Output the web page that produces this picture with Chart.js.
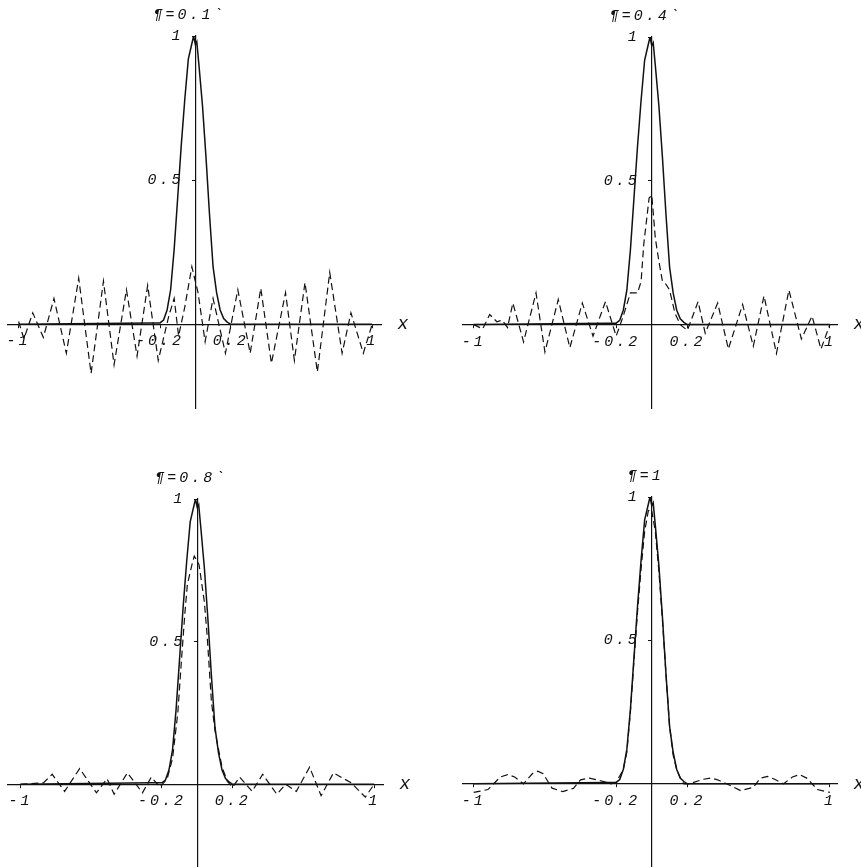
<!DOCTYPE html>
<html>
<head>
<meta charset="utf-8">
<script src="https://cdn.jsdelivr.net/npm/chart.js@4.4.1/dist/chart.umd.min.js"></script>
<style>
body { margin: 0; background: #fff; }
#wrap { position: relative; width: 861px; height: 867px; overflow: hidden; }
#wrap canvas { position: absolute; }
</style>
</head>
<body>
<div id="wrap">
  <canvas id="c1" width="430" height="430" style="left:0;top:0"></canvas>
  <canvas id="c2" width="431" height="430" style="left:430px;top:0"></canvas>
  <canvas id="c3" width="430" height="437" style="left:0;top:430px"></canvas>
  <canvas id="c4" width="431" height="437" style="left:430px;top:430px"></canvas>
</div>
<script>
// panel labels
const etaLabels = ['¶=0.1`', '¶=0.4`', '¶=0.8`', '¶=1'];

// tick values + labels
const xTickValues = [-1, -0.2, 0.2, 1];
const xTickLabels = ['-1', '-0.2', '0.2', '1'];
const yTickValues = [0.5, 1];
const yTickLabels = ['0.5 ', '1 '];

// exact curve (solid), same in every panel
const exactX = [-1, -0.25, -0.2, -0.18, -0.16, -0.14, -0.12, -0.1, -0.08, -0.06, -0.04, -0.025, -0.01, 0, 0.008, 0.02, 0.04, 0.06, 0.08, 0.1, 0.12, 0.14, 0.16, 0.18, 0.2, 0.25, 1];
const exactY = [0, 0.005, 0.005, 0.015, 0.05, 0.12, 0.26, 0.44, 0.62, 0.78, 0.92, 0.96, 1.0, 0.97, 0.98, 0.9, 0.76, 0.58, 0.38, 0.2, 0.11, 0.05, 0.02, 0.008, 0, 0, 0];

// approximation (dashed), eta = 0.1
const dash1X = [-1, -0.97, -0.92, -0.86, -0.8, -0.73, -0.66, -0.59, -0.52, -0.46, -0.39, -0.33, -0.27, -0.21, -0.15, -0.12, -0.095, -0.06, -0.02, 0.015, 0.055, 0.1, 0.17, 0.24, 0.31, 0.37, 0.43, 0.51, 0.56, 0.62, 0.69, 0.76, 0.83, 0.88, 0.95, 1];
const dash1Y = [0.01, -0.05, 0.04, -0.045, 0.09, -0.1, 0.16, -0.17, 0.15, -0.14, 0.12, -0.11, 0.135, -0.125, 0.03, 0.09, -0.04, 0.06, 0.2, 0.11, -0.06, 0.09, -0.1, 0.12, -0.1, 0.125, -0.135, 0.11, -0.125, 0.145, -0.165, 0.18, -0.1, 0.04, -0.1, 0];

// eta = 0.4
const dash2X = [-1, -0.95, -0.91, -0.87, -0.84, -0.81, -0.78, -0.72, -0.65, -0.6, -0.525, -0.46, -0.39, -0.33, -0.26, -0.2, -0.16, -0.12, -0.08, -0.06, -0.045, -0.015, 0, 0.02, 0.04, 0.06, 0.08, 0.1, 0.13, 0.16, 0.2, 0.26, 0.3, 0.37, 0.43, 0.51, 0.57, 0.63, 0.7, 0.77, 0.84, 0.9, 0.95, 1];
const dash2Y = [0, -0.015, 0.035, 0.01, 0.015, -0.01, 0.075, -0.06, 0.11, -0.095, 0.087, -0.08, 0.075, -0.04, 0.08, -0.04, 0.03, 0.11, 0.11, 0.15, 0.28, 0.44, 0.45, 0.3, 0.22, 0.15, 0.14, 0.12, 0.04, 0, -0.02, 0.08, -0.03, 0.075, -0.085, 0.07, -0.075, 0.1, -0.1, 0.12, -0.05, 0.03, -0.085, 0];

// eta = 0.8
const dash3X = [-1, -0.87, -0.82, -0.75, -0.665, -0.57, -0.51, -0.47, -0.395, -0.31, -0.26, -0.21, -0.17, -0.14, -0.11, -0.09, -0.07, -0.056, -0.03, -0.017, 0.01, 0.04, 0.056, 0.08, 0.1, 0.113, 0.14, 0.17, 0.2, 0.24, 0.31, 0.37, 0.45, 0.5, 0.56, 0.635, 0.7, 0.77, 0.87, 0.95, 1];
const dash3Y = [0, 0.005, 0.035, -0.025, 0.055, -0.03, 0.02, -0.035, 0.04, -0.03, 0.025, -0.01, 0.02, 0.09, 0.25, 0.43, 0.6, 0.7, 0.77, 0.8, 0.77, 0.64, 0.52, 0.29, 0.19, 0.145, 0.06, 0.01, -0.01, 0.025, -0.025, 0.035, -0.035, 0, -0.025, 0.06, -0.04, 0.04, 0.005, -0.045, 0];

// eta = 1
const dash4X = [-1, -0.92, -0.85, -0.81, -0.77, -0.72, -0.67, -0.64, -0.61, -0.56, -0.5, -0.44, -0.4, -0.35, -0.3, -0.26, -0.23, -0.2, -0.16, -0.14, -0.12, -0.1, -0.08, -0.06, -0.04, -0.02, -0.01, 0, 0.02, 0.04, 0.06, 0.08, 0.1, 0.12, 0.14, 0.16, 0.18, 0.21, 0.29, 0.33, 0.37, 0.42, 0.5, 0.57, 0.61, 0.65, 0.69, 0.74, 0.79, 0.83, 0.87, 0.93, 1];
const dash4Y = [-0.03, -0.02, 0.024, 0.032, 0.024, 0, 0.036, 0.044, 0.035, -0.015, -0.027, -0.016, 0.014, 0.02, 0.013, 0.006, 0, 0.005, 0.05, 0.11, 0.25, 0.43, 0.6, 0.75, 0.88, 0.95, 0.96, 0.95, 0.88, 0.74, 0.57, 0.38, 0.2, 0.1, 0.05, 0.02, 0, 0, 0.016, 0.02, 0.014, 0, -0.024, -0.012, 0.02, 0.026, 0.016, 0, 0.024, 0.032, 0.02, -0.02, -0.03];

const dashX = [dash1X, dash2X, dash3X, dash4X];
const dashY = [dash1Y, dash2Y, dash3Y, dash4Y];

const ink = '#111';
const labelFont = { family: '"Liberation Mono", "DejaVu Sans Mono", monospace', size: 15, style: 'italic' };

function pts(xs, ys) {
  return xs.map((x, i) => ({ x: x, y: ys[i] }));
}

const decor = {
  id: 'decor',
  beforeUpdate(chart) { chart.ctx.letterSpacing = '3px'; },
  beforeDraw(chart) { chart.ctx.letterSpacing = '3px'; },
  afterDraw(chart, args, opts) {
    const ctx = chart.ctx;
    const x0 = chart.scales.x.getPixelForValue(0);
    const y0 = chart.scales.y.getPixelForValue(0);
    const y1 = chart.scales.y.getPixelForValue(1);
    ctx.save();
    ctx.fillStyle = ink;
    ctx.textAlign = 'center';
    ctx.textBaseline = 'middle';
    ctx.letterSpacing = '3px';
    ctx.font = 'italic 15px "Liberation Mono"';
    ctx.fillText(opts.title, x0 - 6, y1 - 21);
    ctx.letterSpacing = '0px';
    ctx.font = 'italic 18px "Liberation Mono"';
    ctx.fillText('x', chart.chartArea.right + 22, y0);
    ctx.restore();
  }
};

const panels = [
  { id: 'c1', pad: { left: 8, right: 49, top: 36, bottom: 22 }, xmin: -1.06, xmax: 1.05 },
  { id: 'c2', pad: { left: 33, right: 24, top: 37, bottom: 22 }, xmin: -1.06, xmax: 1.04 },
  { id: 'c3', pad: { left: 8, right: 47, top: 69, bottom: 0 }, xmin: -1.07, xmax: 1.05 },
  { id: 'c4', pad: { left: 33, right: 24, top: 67, bottom: 0 }, xmin: -1.06, xmax: 1.04 }
];

panels.forEach(function (p, k) {
  new Chart(document.getElementById(p.id), {
    type: 'line',
    data: {
      datasets: [{
        data: pts(exactX, exactY),
        borderColor: ink,
        borderWidth: 1.5,
        pointRadius: 0,
        tension: 0
      }, {
        data: pts(dashX[k], dashY[k]),
        borderColor: ink,
        borderWidth: 1.2,
        borderDash: [7, 4],
        pointRadius: 0,
        tension: 0
      }]
    },
    options: {
      responsive: false,
      animation: false,
      events: [],
      layout: { padding: p.pad },
      plugins: {
        legend: { display: false },
        tooltip: { enabled: false },
        decor: { title: etaLabels[k] }
      },
      scales: {
        x: {
          type: 'linear',
          min: p.xmin,
          max: p.xmax,
          position: { y: 0 },
          afterFit(s) { s.height = 0; s.paddingLeft = 0; s.paddingRight = 0; s.paddingTop = 0; s.paddingBottom = 0; },
          afterBuildTicks(s) { s.ticks = xTickValues.map(v => ({ value: v })); },
          ticks: {
            autoSkip: false,
            maxRotation: 0,
            padding: 5,
            color: ink,
            font: labelFont,
            callback: v => xTickLabels[xTickValues.indexOf(v)]
          },
          grid: { drawOnChartArea: false, drawTicks: true, tickLength: 3, color: ink },
          border: { display: true, color: ink, width: 1.2 }
        },
        y: {
          type: 'linear',
          min: -0.29,
          max: 1.0,
          position: { x: 0 },
          afterFit(s) { s.width = 0; s.paddingLeft = 0; s.paddingRight = 0; s.paddingTop = 0; s.paddingBottom = 0; },
          afterBuildTicks(s) { s.ticks = yTickValues.map(v => ({ value: v })); },
          ticks: {
            autoSkip: false,
            color: ink,
            font: labelFont,
            callback: v => yTickLabels[yTickValues.indexOf(v)]
          },
          grid: { drawOnChartArea: false, drawTicks: true, tickLength: 3, color: ink },
          border: { display: true, color: ink, width: 1.2 }
        }
      }
    },
    plugins: [decor]
  });
});
</script>
</body>
</html>
